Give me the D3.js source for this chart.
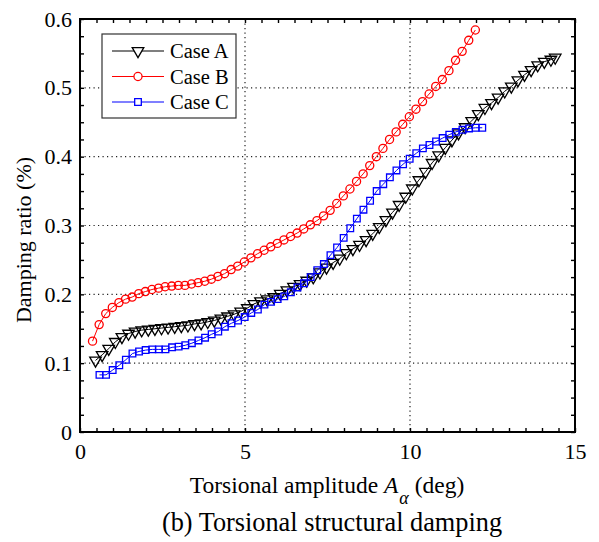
<!DOCTYPE html>
<html>
<head>
<meta charset="utf-8">
<script src="https://cdn.jsdelivr.net/npm/d3@7"></script>
<style>
  body { margin: 0; background: #fff; }
  svg text { font-family: "Liberation Serif", "Times New Roman", serif; fill: #000; }
</style>
</head>
<body>
<div id="chart"></div>
<script>
// values
var caseAx = [0.47, 0.67, 0.87, 1.07, 1.27, 1.47, 1.67, 1.87, 2.07, 2.27, 2.47, 2.67, 2.87, 3.07, 3.27, 3.47, 3.67, 3.87, 4.07, 4.27, 4.47, 4.67, 4.87, 5.07, 5.27, 5.47, 5.67, 5.87, 6.07, 6.27, 6.47, 6.67, 6.87, 7.07, 7.27, 7.47, 7.67, 7.87, 8.07, 8.27, 8.47, 8.67, 8.87, 9.07, 9.27, 9.47, 9.67, 9.87, 10.07, 10.27, 10.47, 10.67, 10.87, 11.07, 11.27, 11.47, 11.67, 11.87, 12.07, 12.27, 12.47, 12.67, 12.87, 13.07, 13.27, 13.47, 13.67, 13.87, 14.07, 14.27, 14.40];
var caseAy = [0.104, 0.112, 0.121, 0.131, 0.138, 0.143, 0.146, 0.148, 0.149, 0.150, 0.151, 0.152, 0.153, 0.154, 0.155, 0.157, 0.158, 0.160, 0.162, 0.165, 0.168, 0.171, 0.175, 0.180, 0.186, 0.190, 0.193, 0.196, 0.201, 0.206, 0.211, 0.215, 0.220, 0.225, 0.232, 0.239, 0.246, 0.252, 0.260, 0.266, 0.272, 0.279, 0.288, 0.298, 0.308, 0.319, 0.330, 0.342, 0.354, 0.366, 0.378, 0.391, 0.402, 0.413, 0.424, 0.434, 0.443, 0.452, 0.462, 0.471, 0.478, 0.486, 0.495, 0.502, 0.511, 0.519, 0.526, 0.533, 0.538, 0.541, 0.544];

var caseBx = [0.38, 0.58, 0.78, 0.98, 1.18, 1.38, 1.58, 1.78, 1.98, 2.18, 2.38, 2.58, 2.78, 2.98, 3.18, 3.38, 3.58, 3.78, 3.98, 4.18, 4.38, 4.58, 4.78, 4.98, 5.18, 5.38, 5.58, 5.78, 5.98, 6.18, 6.38, 6.58, 6.78, 6.98, 7.18, 7.38, 7.58, 7.78, 7.98, 8.18, 8.38, 8.58, 8.78, 8.98, 9.18, 9.38, 9.58, 9.78, 9.98, 10.18, 10.38, 10.58, 10.78, 10.98, 11.18, 11.38, 11.58, 11.78, 11.98];
var caseBy = [0.132, 0.156, 0.172, 0.181, 0.188, 0.193, 0.196, 0.201, 0.204, 0.207, 0.209, 0.211, 0.212, 0.213, 0.213, 0.215, 0.217, 0.219, 0.222, 0.226, 0.230, 0.236, 0.241, 0.247, 0.253, 0.259, 0.264, 0.269, 0.274, 0.279, 0.284, 0.289, 0.295, 0.301, 0.307, 0.314, 0.322, 0.332, 0.343, 0.353, 0.364, 0.375, 0.387, 0.400, 0.412, 0.425, 0.436, 0.447, 0.458, 0.469, 0.480, 0.491, 0.502, 0.512, 0.525, 0.540, 0.553, 0.569, 0.584];

var caseCx = [0.59, 0.79, 0.99, 1.19, 1.39, 1.59, 1.79, 1.99, 2.19, 2.39, 2.59, 2.79, 2.99, 3.19, 3.39, 3.59, 3.79, 3.99, 4.19, 4.39, 4.59, 4.79, 4.99, 5.19, 5.39, 5.59, 5.79, 5.99, 6.19, 6.39, 6.59, 6.79, 6.99, 7.19, 7.39, 7.59, 7.79, 7.99, 8.19, 8.39, 8.59, 8.79, 8.99, 9.19, 9.39, 9.59, 9.79, 9.99, 10.19, 10.39, 10.59, 10.79, 10.99, 11.19, 11.39, 11.59, 11.79, 11.99, 12.19];
var caseCy = [0.083, 0.083, 0.090, 0.097, 0.105, 0.114, 0.117, 0.119, 0.120, 0.120, 0.120, 0.123, 0.124, 0.126, 0.129, 0.133, 0.137, 0.142, 0.146, 0.153, 0.158, 0.162, 0.167, 0.173, 0.178, 0.185, 0.189, 0.193, 0.197, 0.203, 0.210, 0.216, 0.225, 0.235, 0.244, 0.257, 0.268, 0.282, 0.296, 0.310, 0.323, 0.336, 0.350, 0.360, 0.370, 0.380, 0.389, 0.397, 0.405, 0.412, 0.417, 0.422, 0.427, 0.432, 0.436, 0.439, 0.441, 0.442, 0.442];

var seriesNames = ["Case A", "Case B", "Case C"];
var seriesColors = ["#000000", "#ff0000", "#0000ff"];
var seriesShapes = ["triangle", "circle", "square"];

var xTickLabels = [0, 5, 10, 15];
var yTickLabels = [0, 0.1, 0.2, 0.3, 0.4, 0.5, 0.6];

var W = 599, H = 542;
var margin = { top: 19, right: 24, bottom: 110, left: 80 };
var width = W - margin.left - margin.right,
    height = H - margin.top - margin.bottom;

var svg = d3.select("#chart").append("svg")
  .attr("width", W)
  .attr("height", H);

var g = svg.append("g")
  .attr("transform", "translate(" + margin.left + "," + margin.top + ")");

var xScale = d3.scaleLinear().domain([0, 15]).range([0, width]);
var yScale = d3.scaleLinear().domain([0, 0.6]).range([height, 0]);

// dotted grid at the inner labelled ticks
g.append("g").selectAll("line.gx")
  .data(xTickLabels.slice(1, -1))
  .join("line")
  .attr("x1", d => xScale(d)).attr("x2", d => xScale(d))
  .attr("y1", 0).attr("y2", height)
  .style("stroke", "#222").style("stroke-width", 1.2)
  .style("stroke-dasharray", "1.2,3.3");
g.append("g").selectAll("line.gy")
  .data(yTickLabels.slice(1, -1))
  .join("line")
  .attr("x1", 0).attr("x2", width)
  .attr("y1", d => yScale(d)).attr("y2", d => yScale(d))
  .style("stroke", "#222").style("stroke-width", 1.2)
  .style("stroke-dasharray", "1.2,3.3");

// series
var symbols = {
  triangle: d3.symbol().type(d3.symbolTriangle).size(58),
  circle: d3.symbol().type(d3.symbolCircle).size(52),
  square: d3.symbol().type(d3.symbolSquare).size(44)
};
var allX = [caseAx, caseBx, caseCx], allY = [caseAy, caseBy, caseCy];

function drawMarker(sel, shape, color) {
  sel.attr("d", symbols[shape]())
    .attr("fill", "none")
    .attr("stroke", color)
    .attr("stroke-width", 1.3);
}

var line = d3.line().x(d => xScale(d[0])).y(d => yScale(d[1]));
for (var s = 0; s < 3; s++) {
  var pts = d3.zip(allX[s], allY[s]);
  var sg = g.append("g");
  sg.append("path")
    .datum(pts)
    .attr("fill", "none")
    .attr("stroke", seriesColors[s])
    .attr("stroke-width", 1)
    .attr("d", line);
  var shape = seriesShapes[s];
  sg.selectAll("path.m")
    .data(pts)
    .join("path")
    .attr("class", "m")
    .attr("transform", d => "translate(" + xScale(d[0]) + "," + yScale(d[1]) + ")" + (shape == "triangle" ? " rotate(180)" : ""))
    .call(drawMarker, shape, seriesColors[s]);
}

// axes: inward ticks on all four sides
function styleAxis(a) {
  a.select(".domain").remove();
  a.selectAll("line").style("stroke", "#000").style("stroke-width", 1.4);
  a.selectAll("text").style("font-size", "22px").style("font-family", "Liberation Serif");
}
var xMinor = d3.range(0, 15.001, 0.5);
var yMinor = d3.range(0, 0.6001, 0.025);

g.append("g").attr("transform", "translate(0," + height + ")")
  .call(d3.axisBottom(xScale).tickValues(xMinor).tickSize(-4).tickFormat(""))
  .call(styleAxis);
g.append("g")
  .call(d3.axisTop(xScale).tickValues(xMinor).tickSize(-4).tickFormat(""))
  .call(styleAxis);
g.append("g")
  .call(d3.axisLeft(yScale).tickValues(yMinor).tickSize(-4).tickFormat(""))
  .call(styleAxis);
g.append("g").attr("transform", "translate(" + width + ",0)")
  .call(d3.axisRight(yScale).tickValues(yMinor).tickSize(-4).tickFormat(""))
  .call(styleAxis);

var xAxis = g.append("g").attr("transform", "translate(0," + height + ")")
  .call(d3.axisBottom(xScale).tickValues(xTickLabels).tickSize(0).tickPadding(11).tickFormat(d3.format("d")))
  .call(styleAxis);
var yAxis = g.append("g")
  .call(d3.axisLeft(yScale).tickValues(yTickLabels).tickSize(0).tickPadding(8).tickFormat(d => d === 0 ? "0" : d3.format(".1f")(d)))
  .call(styleAxis);

// frame
g.append("rect")
  .attr("x", 0).attr("y", 0)
  .attr("width", width).attr("height", height)
  .attr("fill", "none")
  .attr("stroke", "#000")
  .attr("stroke-width", 2);

// legend
var legend = g.append("g").attr("transform", "translate(22,15)");
legend.append("rect")
  .attr("width", 134).attr("height", 84)
  .attr("fill", "#fff").attr("stroke", "#333").attr("stroke-width", 1.2);
seriesNames.forEach(function(name, i) {
  var ly = 17 + i * 25.5;
  legend.append("line")
    .attr("x1", 10).attr("x2", 62).attr("y1", ly).attr("y2", ly)
    .attr("stroke", seriesColors[i]).attr("stroke-width", 1.2);
  legend.append("path")
    .attr("transform", "translate(36," + ly + ")" + (seriesShapes[i] == "triangle" ? " rotate(180)" : ""))
    .call(drawMarker, seriesShapes[i], seriesColors[i])
    .attr("fill", "#fff");
  legend.append("text")
    .attr("x", 68).attr("y", ly + 7)
    .style("font-size", "20.5px")
    .text(name);
});

// axis titles
var xLabel = svg.append("text")
  .attr("x", 327).attr("y", 493)
  .attr("text-anchor", "middle")
  .style("font-size", "23.5px");
xLabel.append("tspan").text("Torsional amplitude ");
xLabel.append("tspan").style("font-style", "italic").text("A");
xLabel.append("tspan").attr("dx", 1).attr("dy", 11).style("font-style", "italic").style("font-size", "18px").text("\u03b1");
xLabel.append("tspan").attr("dy", -11).text(" (deg)");

svg.append("text")
  .attr("transform", "translate(31,240) rotate(-90)")
  .attr("text-anchor", "middle")
  .style("font-size", "22px")
  .text("Damping ratio (%)");

svg.append("text")
  .attr("x", 332).attr("y", 531)
  .attr("text-anchor", "middle")
  .style("font-size", "26.3px")
  .text("(b) Torsional structural damping");
</script>
</body>
</html>
